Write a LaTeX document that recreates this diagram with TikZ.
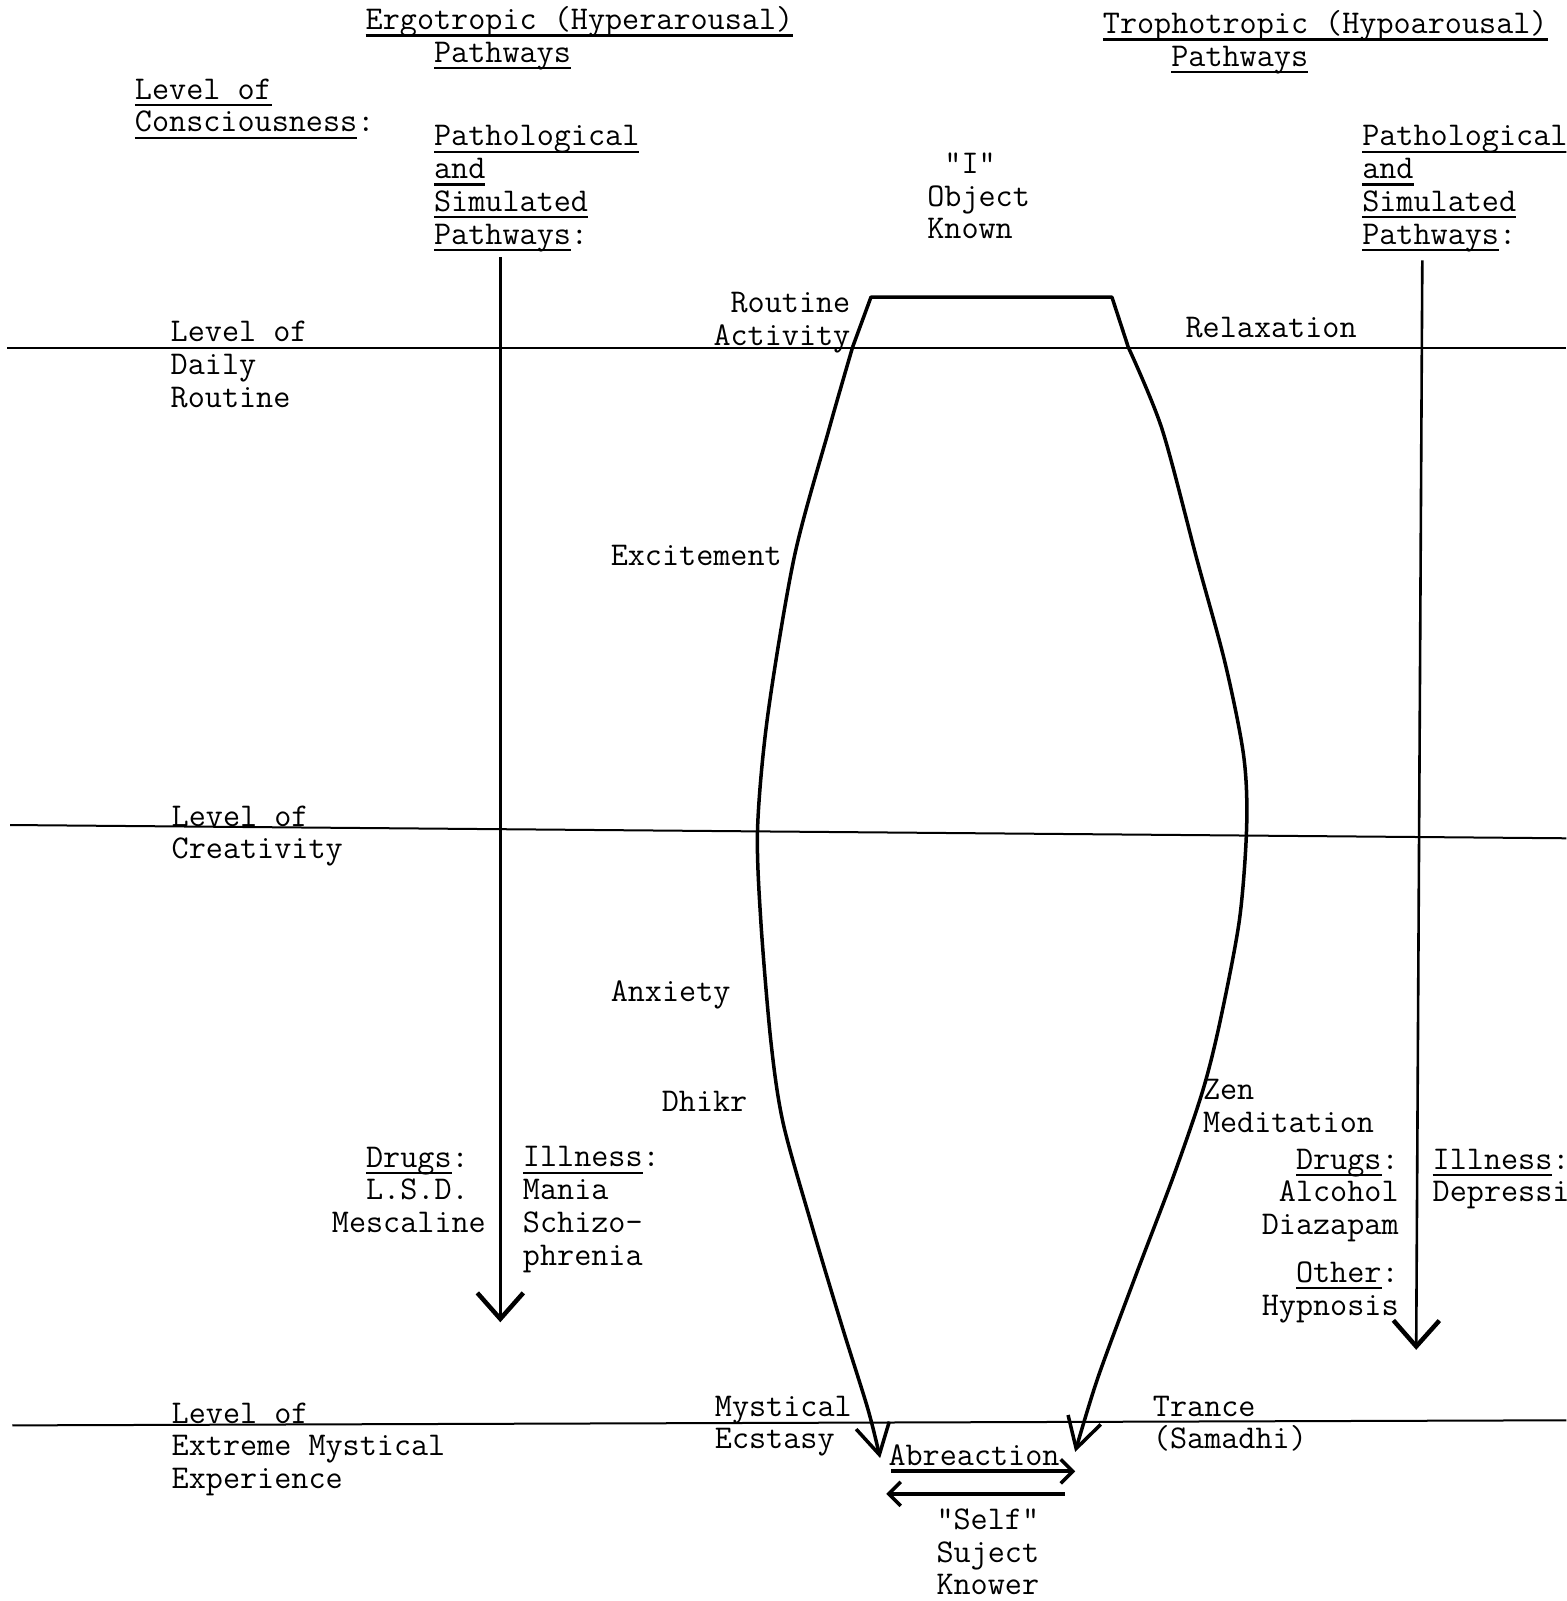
\documentclass[tikz,border=0pt]{standalone}
\usetikzlibrary{arrows.meta}
\newcommand\ul[1]{\setbox0\hbox{#1}\rlap{\rule[-7pt]{\wd0}{2.2pt}}\box0}

\begin{document}
\begin{tikzpicture}[x=1.0209pt, y=-1.0209pt,
    tw/.style={font=\fontsize{33.2}{32.7}\selectfont\ttfamily, inner sep=0pt, anchor=base west, align=left},
    twr/.style={tw, align=right, anchor=base east},
    lvl/.style={line width=2pt},
    vase/.style={line width=3.5pt, line join=round, -{Straight Barb[length=30pt, width=34pt, line width=3.5pt]}},
    pathway/.style={line width=2.6pt, -{Straight Barb[length=26pt, width=46pt, line width=4.5pt]}},
    flow/.style={line width=4pt, -{Straight Barb[length=12pt, width=24pt, line width=3.5pt]}}]
    \useasboundingbox (0,0) rectangle (1534,1568);
    \clip (0,0) rectangle (1534,1568);

    \node[tw] (ergo) at (358,61) {\ul{Ergotropic (Hyperarousal)}\\\phantom{xxxx}\ul{Pathways}};
    \node[tw] (tropho) at (1080,65) {\ul{Trophotropic (Hypoarousal)}\\\phantom{xxxx}\ul{Pathways}};
    \node[tw] (consc) at (132,129) {\ul{Level of}\\\ul{Consciousness}:};
    \node[tw] (pathL) at (425,239) {\ul{Pathological}\\\ul{and}\\\ul{Simulated}\\\ul{Pathways}:};
    \node[tw] (pathR) at (1334,239) {\ul{Pathological}\\\ul{and}\\\ul{Simulated}\\\ul{Pathways}:};
    \node[tw] (known) at (908,234) {\phantom{x}"I"\\Object\\Known};
    \node[twr] (routine) at (833,338) {Routine\\Activity};
    \node[tw] (relax) at (1161,331) {Relaxation};
    \node[tw] (daily) at (167,399) {Level of\\Daily\\Routine};
    \node[tw] (excite) at (598,554) {Excitement};
    \node[tw] (creat) at (168,841) {Level of\\Creativity};
    \node[tw] (anxiety) at (598,981) {Anxiety};
    \node[tw] (dhikr) at (648,1089) {Dhikr};
    \node[tw] (zen) at (1178,1109) {Zen\\Meditation};
    \node[twr] (drugsL) at (476,1207) {\ul{Drugs}:\phantom{x}\\L.S.D.\phantom{x}\\Mescaline};
    \node[tw] (illL) at (512,1239) {\ul{Illness}:\\Mania\\Schizo-\\phrenia};
    \node[twr] (drugsR) at (1370,1209) {\ul{Drugs}:\\Alcohol\\Diazapam};
    \node[twr] (other) at (1370,1288) {\ul{Other}:\\Hypnosis};
    \node[tw] (illR) at (1403,1177) {\ul{Illness}:\\Depression};
    \node[tw] (extreme) at (168,1458) {Level of\\Extreme Mystical\\Experience};
    \node[tw] (ecstasy) at (700,1419) {Mystical\\Ecstasy};
    \node[tw] (trance) at (1129,1419) {Trance\\(Samadhi)};
    \node[tw] (abre) at (870,1435) {Abreaction};
    \node[tw] (self) at (917,1562) {"Self"\\Suject\\Knower};

    \draw[lvl] (7,341) -- (1534,341);
    \draw[lvl] (10,808) -- (1534,821);
    \draw[lvl] (12,1396) -- (1534,1391);

    \draw[line width=3.5pt, line join=round] (835,340) -- (853,291) -- (1089,291) -- (1105,340);
    \draw[vase] plot[smooth] coordinates {(835,340) (812,420) (778,545) (752,700) (742,810) (745,900) (755,1020) (767,1100) (795,1200) (825,1300) (850,1380) (862,1428)};
    \draw[vase] plot[smooth] coordinates {(1105,340) (1138,420) (1172,547) (1200,650) (1218,740) (1221,808) (1214,900) (1195,1000) (1178,1068) (1150,1150) (1112,1250) (1075,1350) (1053,1422)};

    \coordinate (ltop) at (490,252);
    \coordinate (lend) at (490,1295);
    \coordinate (rtop) at (1393,255);
    \coordinate (rend) at (1387,1322);
    \draw[pathway] (ltop) -- (lend);
    \draw[pathway] (rtop) -- (rend);

    \coordinate (abl) at (873,1441);
    \coordinate (abr) at (1053,1441);
    \coordinate (sbr) at (1043,1463);
    \coordinate (sbl) at (868,1463);
    \draw[flow] (abl) -- (abr);
    \draw[flow] (sbr) -- (sbl);
\end{tikzpicture}
\end{document}
